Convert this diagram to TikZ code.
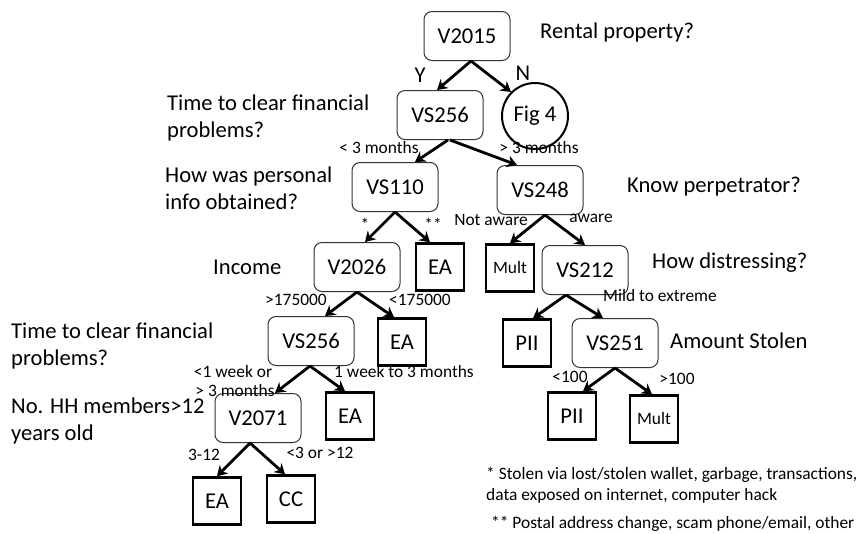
\documentclass[tikz,border=0pt]{standalone}
\usepackage{fontspec}
\setmainfont{Carlito}
\usetikzlibrary{arrows.meta}
\begin{document}
\begin{tikzpicture}[x=1pt,y=-1pt,
  big/.style={font=\fontsize{22.6}{27}\selectfont},
  small/.style={font=\fontsize{17.4}{21}\selectfont},
  rbox/.style={big,draw=black!80,line width=1pt,rounded corners=8pt,minimum width=86pt,minimum height=49pt,inner sep=0pt},
  sbox/.style={big,draw=black,line width=2.5pt,minimum width=48pt,minimum height=47pt,inner sep=0pt},
  cnode/.style={big,draw=black,line width=2pt,circle,minimum size=66pt,inner sep=0pt},
  side/.style={big,anchor=west,align=left,inner sep=0pt},
  elab/.style={small,inner sep=0pt},
  arr/.style={line width=2.8pt,-{Stealth[length=10pt,width=12pt]}}
]
\useasboundingbox (0,0) rectangle (861,533);

% nodes
\node[rbox] (v2015) at (467,36) {V2015};
\node[rbox] (vs256a) at (440,115) {VS256};
\node[cnode] (fig4) at (535,116) {Fig 4};
\node[rbox] (vs110) at (395,187) {VS110};
\node[rbox] (vs248) at (540,190) {VS248};
\node[rbox] (v2026) at (357,267) {V2026};
\node[sbox] (ea1) at (440,267) {EA};
\node[sbox,small] (mult1) at (510,268) {Mult};
\node[rbox] (vs212) at (585,270) {VS212};
\node[rbox] (vs256b) at (311,341) {VS256};
\node[sbox] (ea2) at (402,342) {EA};
\node[sbox] (pii1) at (527,343) {PII};
\node[rbox] (vs251) at (615,343) {VS251};
\node[rbox] (v2071) at (258,418) {V2071};
\node[sbox] (ea3) at (350,416) {EA};
\node[sbox] (pii2) at (572,416) {PII};
\node[sbox,small] (mult2) at (654,419) {Mult};
\node[sbox] (ea4) at (217,501) {EA};
\node[sbox] (cc) at (291,499) {CC};

% connectors
\draw[arr] ([xshift=4pt]v2015.south) -- ([xshift=-3pt]vs256a.north);
\draw[arr] ([xshift=4pt]v2015.south) -- (fig4.north west);
\draw[arr] ([xshift=8pt]vs256a.south) -- ([xshift=20pt]vs110.north);
\draw[arr] ([xshift=10pt]vs256a.south) -- ([xshift=-23pt]vs248.north);
\draw[arr] (vs110.south) -- ([xshift=8pt]v2026.north);
\draw[arr] (vs110.south) -- ([xshift=-10pt]ea1.north);
\draw[arr] ([xshift=5pt]vs248.south) -- (mult1.north);
\draw[arr] ([xshift=5pt]vs248.south) -- (vs212.north);
\draw[arr] (v2026.south) -- ([xshift=14pt]vs256b.north);
\draw[arr] (v2026.south) -- ([xshift=-8pt]ea2.north);
\draw[arr] ([xshift=-19pt]vs212.south) -- ([xshift=6pt]pii1.north);
\draw[arr] ([xshift=-19pt]vs212.south) -- ([xshift=-12pt]vs251.north);
\draw[arr] (vs251.south) -- ([xshift=11pt]pii2.north);
\draw[arr] (vs251.south) -- ([xshift=-2pt]mult2.north);
\draw[arr] ([xshift=-1pt]vs256b.south) -- ([xshift=17pt]v2071.north);
\draw[arr] ([xshift=-1pt]vs256b.south) -- ([xshift=-5pt]ea3.north);
\draw[arr] ([xshift=-8pt]v2071.south) -- (ea4.north);
\draw[arr] ([xshift=-8pt]v2071.south) -- ([xshift=-6pt]cc.north);

% side questions
\node[side] (q1) at (540,32) {Rental property?};
\node[side] (q2) at (167,118) {Time to clear financial\\problems?};
\node[side] (q3) at (165,188) {How was personal\\info obtained?};
\node[side] (q4) at (627,187) {Know perpetrator?};
\node[side] (q5) at (213,267) {Income};
\node[side] (q6) at (652,263) {How distressing?};
\node[side] (q7) at (670,341) {Amount Stolen};
\node[side] (q8) at (11,346) {Time to clear financial\\problems?};
\node[side] (q9) at (11,421) {No. HH members>12\\years old};

% edge labels
\node[big,inner sep=0pt] (ly) at (420,75) {Y};
\node[big,inner sep=0pt] (ln) at (523,73) {N};
\node[elab] (l1) at (379,148) {< 3 months};
\node[elab] (l2) at (539,148) {> 3 months};
\node[elab] (l3) at (365,224) {*};
\node[elab] (l4) at (433,224) {**};
\node[elab] (l5) at (491,220) {Not aware};
\node[elab] (l6) at (591,218) {aware};
\node[elab] (l7) at (296,300) {>175000};
\node[elab] (l8) at (420,300) {<175000};
\node[elab] (l9) at (660,296) {Mild to extreme};
\node[elab] (l10) at (570,377) {<100};
\node[elab] (l11) at (677,379) {>100};
\node[elab] (l12) at (233,372) {<1 week or};
\node[elab] (l13) at (235,391) {> 3 months};
\node[elab] (l14) at (404,372) {1 week to 3 months};
\node[elab] (l15) at (204,455) {3-12};
\node[elab] (l16) at (320,453) {<3 or >12};

% footnotes
\node[small,anchor=west,align=left,inner sep=0pt] (fn1) at (486,485) {* Stolen via lost/stolen wallet, garbage, transactions,\\data exposed on internet, computer hack};
\node[small,anchor=west,inner sep=0pt] (fn2) at (491,524) {** Postal address change, scam phone/email, other};
\end{tikzpicture}
\end{document}
